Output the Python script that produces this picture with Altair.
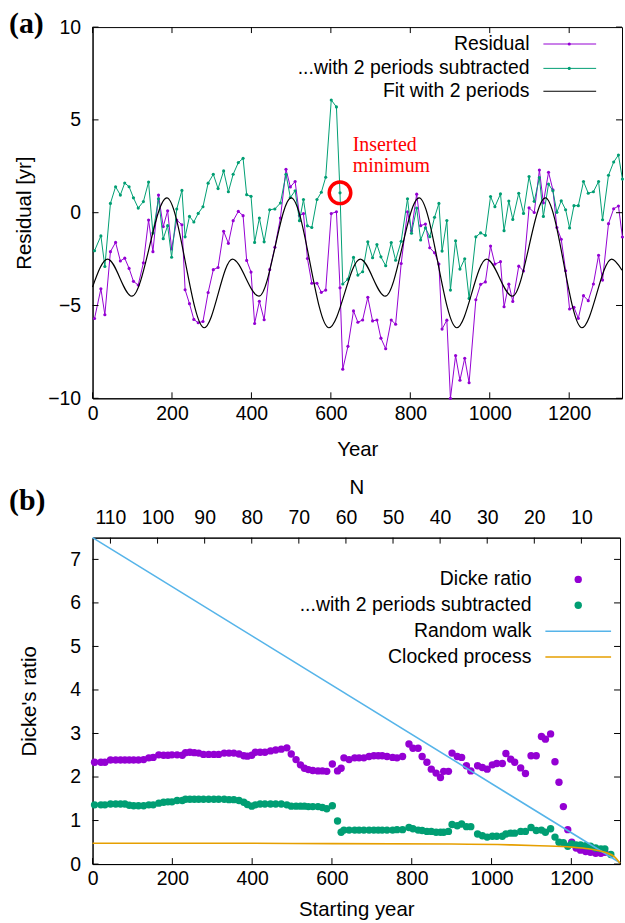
import altair as alt
import pandas as pd

# ---------------- data: panel (a) ----------------
years = [5, 21, 31, 45, 58, 70, 81, 92, 103, 115,
         128, 141, 152, 166, 178, 189, 199, 212, 225, 233,
         244, 255, 266, 278, 291, 304, 316, 330, 342, 354,
         367, 379, 388, 399, 408, 420, 432, 446, 459, 473,
         487, 498, 510, 521, 531, 541, 552, 565, 576, 587,
         601, 614, 623, 630, 643, 657, 668, 680, 693, 705,
         716, 726, 738, 752, 763, 777, 793, 803, 816, 826,
         838, 849, 861, 872, 880, 892, 901, 914, 925, 937,
         948, 965, 977, 989, 1002, 1013, 1027, 1036, 1048, 1058,
         1073, 1085, 1099, 1112, 1125, 1135, 1148, 1159, 1169, 1180,
         1191, 1201, 1212, 1223, 1236, 1248, 1261, 1274, 1284, 1299,
         1312, 1324, 1334]

residual = [-5.7, -4.1, -5.5, -2.1, -1.6, -2.6, -2.45, -3.0, -3.7, -3.9,
            -2.7, -0.4, -2.1, 0.95, -0.75, 0.1, -1.95, -0.4, -0.65, -4.15,
            -4.9, -5.75, -5.93, -5.86, -4.3, -3.07, -2.95, -1.0, -1.65, -0.43,
            0.07, -0.16, -2.57, -3.2, -5.97, -4.77, -5.77, -3.07, -1.86, -0.29,
            2.34, 1.39, 1.68, -0.15, -0.05, -2.47, -3.8, -3.8, -4.29, -4.17,
            -0.05, 0.05, -4.05, -8.43, -7.2, -5.29, -5.9, -5.78, -4.56, -5.83,
            -5.78, -6.76, -7.33, -5.78, -6.01, -2.74, 0.05, -0.97, 1.0, -0.7,
            -0.61, -1.89, -2.16, -2.77, -6.27, -5.79, -10.0, -7.7, -9.03, -7.84,
            -9.16, -4.69, -3.86, -3.73, -1.8, -2.77, -2.64, -5.07, -3.85, -4.78,
            -2.88, -3.14, 0.26, 0.01, 2.3, 0.53, 2.18, 1.23, -0.8, -1.43,
            -3.13, -5.19, -5.1, -5.69, -4.47, -4.74, -3.84, -2.29, -3.63, -0.59,
            0.21, 0.36, -1.31]

subtracted = [-2.05, -1.25, -2.9, 0.5, 1.4, 0.95, 1.6, 1.4, 0.8, 0.25,
              0.6, 1.65, -1.1, 0.75, -1.4, -0.7, -2.4, 0.2, 1.2, -1.3,
              -0.2, -0.5, -0.04, 0.32, 1.59, 2.07, 1.3, 2.25, 1.13, 2.07,
              2.7, 2.93, 0.97, 0.88, -1.6, -0.29, -1.57, 0.16, 0.2, 0.52,
              2.07, 0.82, 1.18, -0.43, 0.71, -0.71, -0.8, 0.71, 1.1, 1.91,
              6.07, 5.7, 1.07, -3.84, -3.58, -2.41, -3.36, -3.18, -1.57, -2.43,
              -1.72, -2.38, -2.86, -1.61, -2.56, -1.54, 0.75, -1.11, 0.25, -1.47,
              -0.82, -1.29, -0.25, 0.5, -2.07, -0.42, -4.17, -1.51, -3.04, -2.48,
              -4.62, -1.3, -1.09, -1.22, 0.87, 0.32, 1.01, -0.97, 0.63, -0.36,
              1.05, -0.04, 1.95, 0.61, 1.89, -0.2, 1.54, 1.18, 0.02, 0.64,
              0.16, -0.82, 0.38, 0.38, 1.68, 1.05, 1.13, 1.68, -0.38, 2.02,
              2.73, 3.11, 1.81]

# extrema of the two-period fit curve
fit_years = [0, 38, 99, 187, 281, 352, 419, 500, 595, 674,
             737, 822, 917, 992, 1057, 1140, 1232, 1307, 1333]
fit_vals = [-4.0, -2.5, -4.5, 0.8, -6.2, -2.5, -4.5, 0.8, -6.2, -2.5,
            -4.5, 0.8, -6.2, -2.5, -4.5, 0.8, -6.2, -2.5, -3.1]

inserted_index = 52
annot_lines = ["Inserted", "minimum"]
annot_year = [655, 655]
annot_vals = [3.32, 2.20]

x_ticks_a = [0, 200, 400, 600, 800, 1000, 1200]
y_ticks_a = [-10, -5, 0, 5, 10]
legend_a = ["Residual", "...with 2 periods subtracted", "Fit with 2 periods"]

# ---------------- data: panel (b) ----------------
dicke = [2.34, 2.34, 2.34, 2.39, 2.39, 2.39, 2.39, 2.39, 2.39, 2.39,
         2.40, 2.44, 2.45, 2.51, 2.50, 2.50, 2.51, 2.51, 2.50, 2.56,
         2.57, 2.56, 2.55, 2.52, 2.52, 2.52, 2.52, 2.55, 2.55, 2.55,
         2.53, 2.49, 2.48, 2.50, 2.57, 2.57, 2.57, 2.60, 2.62, 2.64,
         2.67, 2.53, 2.40, 2.28, 2.20, 2.17, 2.15, 2.14, 2.14, 2.13,
         2.30, 2.14, 2.20, 2.44, 2.40, 2.44, 2.44, 2.44, 2.47, 2.49,
         2.49, 2.49, 2.47, 2.45, 2.44, 2.47, 2.76, 2.66, 2.66, 2.47,
         2.34, 2.18, 2.09, 1.99, 2.13, 2.13, 2.55, 2.47, 2.45, 2.26,
         2.14, 2.26, 2.22, 2.18, 2.28, 2.31, 2.31, 2.54, 2.41, 2.34,
         2.21, 2.08, 2.49, 2.49, 2.93, 2.87, 2.99, 2.35, 1.88, 1.32,
         0.79, 0.50, 0.37, 0.32, 0.29, 0.27, 0.25, 0.25, 0.27]

dicke_sub = [1.36, 1.36, 1.36, 1.38, 1.38, 1.38, 1.38, 1.35, 1.34, 1.34,
             1.34, 1.36, 1.36, 1.40, 1.42, 1.43, 1.43, 1.46, 1.46, 1.49,
             1.49, 1.49, 1.49, 1.49, 1.49, 1.49, 1.49, 1.49, 1.48, 1.48,
             1.46, 1.42, 1.37, 1.33, 1.36, 1.38, 1.38, 1.38, 1.38, 1.38,
             1.36, 1.33, 1.33, 1.33, 1.33, 1.32, 1.32, 1.32, 1.30, 1.27,
             1.34, 0.99, 0.73, 0.78, 0.78, 0.78, 0.78, 0.78, 0.78, 0.78,
             0.78, 0.78, 0.78, 0.78, 0.79, 0.79, 0.84, 0.81, 0.78, 0.77,
             0.75, 0.75, 0.73, 0.73, 0.73, 0.75, 0.91, 0.88, 0.92, 0.86,
             0.86, 0.69, 0.65, 0.62, 0.64, 0.64, 0.64, 0.69, 0.71, 0.71,
             0.75, 0.75, 0.84, 0.77, 0.78, 0.73, 0.81, 0.62, 0.50, 0.49,
             0.41, 0.46, 0.44, 0.44, 0.42, 0.41, 0.37, 0.35, 0.35, 0.22]

rw_years = [0, 1322]
rw_vals = [7.5, 0.03]

cl_years = [0, 300, 600, 900, 1050, 1120, 1200, 1243, 1284, 1309, 1322]
cl_vals = [0.48, 0.48, 0.47, 0.46, 0.44, 0.42, 0.39, 0.35, 0.27, 0.16, 0.02]

x_ticks_b = [0, 200, 400, 600, 800, 1000, 1200]
y_ticks_b = [0, 1, 2, 3, 4, 5, 6, 7]
n_ticks = [10, 20, 30, 40, 50, 60, 70, 80, 90, 100, 110]
legend_b = ["Dicke ratio", "...with 2 periods subtracted", "Random walk", "Clocked process"]

# ---------------- styling ----------------
FONT = "Liberation Sans"
SERIF = "Liberation Serif"
PURPLE = "#9400d3"
GREEN = "#009e73"
BLUE = "#56b4e9"
ORANGE = "#e69f00"
RED = "#ff0000"
TICK_FS = 19.5
TITLE_FS = 20.5
LEG_FS = 19.5

W1, H1 = 532, 373
W2, H2 = 530, 328
TK = 6  # inner tick length


def one_row(label):
    return pd.DataFrame({"t": [label]})


def text_at(label, x, y, align="right", font=FONT, size=LEG_FS, weight="normal", color="black"):
    return alt.Chart(one_row(label)).mark_text(
        align=align, baseline="middle", font=font, fontSize=size,
        fontWeight=weight, color=color
    ).encode(x=alt.value(x), y=alt.value(y), text="t:N")


def sample_line(x1, x2, y, color, width=1.0):
    return alt.Chart(one_row("s")).mark_rule(color=color, strokeWidth=width).encode(
        x=alt.value(x1), x2=alt.value(x2), y=alt.value(y))


def sample_dot(x, y, color, size):
    return alt.Chart(one_row("s")).mark_circle(color=color, size=size, opacity=1).encode(
        x=alt.value(x), y=alt.value(y))


def inner_ticks(xvals, yvals, xs, ys, xax, yax, W, H, top=True):
    xdf = pd.DataFrame({"v": xvals})
    ydf = pd.DataFrame({"v": yvals})
    layers = [
        alt.Chart(xdf).mark_rule(color="black").encode(
            x=alt.X("v:Q", scale=xs, axis=xax), y=alt.value(H), y2=alt.value(H - TK)),
        alt.Chart(ydf).mark_rule(color="black").encode(
            y=alt.Y("v:Q", scale=ys, axis=yax), x=alt.value(0), x2=alt.value(TK)),
        alt.Chart(ydf).mark_rule(color="black").encode(
            y=alt.Y("v:Q", scale=ys, axis=yax), x=alt.value(W - TK), x2=alt.value(W)),
    ]
    if top:
        layers.append(alt.Chart(xdf).mark_rule(color="black").encode(
            x=alt.X("v:Q", scale=xs, axis=xax), y=alt.value(0), y2=alt.value(TK)))
    return layers


# ---------------- panel (a) ----------------
top_df = pd.DataFrame({"year": years, "resid": residual, "sub": subtracted})
fit_df = pd.DataFrame({"year": fit_years, "fit": fit_vals})
annot_df = pd.DataFrame({"t": annot_lines, "year": annot_year, "val": annot_vals})
circle_df = top_df.iloc[[inserted_index]]

xs_a = alt.Scale(domain=[0, 1333], nice=False, zero=False)
ys_a = alt.Scale(domain=[-10, 10], nice=False, zero=False)

xa_axis = alt.Axis(title="Year", values=x_ticks_a, format="d", labelPadding=6,
                   titlePadding=17, labelFlush=False)
ya_axis = alt.Axis(title="Residual [yr]", values=y_ticks_a, format="d", labelPadding=12,
                   titlePadding=13)

XA = lambda f: alt.X(f, scale=xs_a, axis=xa_axis)
YA = lambda f: alt.Y(f, scale=ys_a, axis=ya_axis)

base_a = alt.Chart(top_df)
resid_line = base_a.mark_line(color=PURPLE, strokeWidth=1).encode(
    x=XA("year:Q"), y=YA("resid:Q"))
resid_pts = base_a.mark_circle(color=PURPLE, size=10, opacity=1).encode(
    x=XA("year:Q"), y=YA("resid:Q"))
sub_line = base_a.mark_line(color=GREEN, strokeWidth=1).encode(
    x=XA("year:Q"), y=YA("sub:Q"))
sub_pts = base_a.mark_circle(color=GREEN, size=10, opacity=1).encode(
    x=XA("year:Q"), y=YA("sub:Q"))
fit_line = alt.Chart(fit_df).mark_line(color="black", strokeWidth=1.2,
                                       interpolate="monotone").encode(
    x=XA("year:Q"), y=YA("fit:Q"))
circle = alt.Chart(circle_df).mark_point(shape="circle", filled=False, color=RED,
                                         strokeWidth=3.5, size=470, opacity=1).encode(
    x=XA("year:Q"), y=YA("sub:Q"))
annot = alt.Chart(annot_df).mark_text(align="left", baseline="alphabetic", font=SERIF,
                                      fontSize=20, color=RED).encode(
    x=XA("year:Q"), y=YA("val:Q"), text="t:N")

leg_y_a = [17, 41.5, 64.5]
legend_layers_a = [
    text_at(legend_a[0], 439, leg_y_a[0]),
    sample_line(453, 506, leg_y_a[0], PURPLE),
    sample_dot(479, leg_y_a[0], PURPLE, 10),
    text_at(legend_a[1], 439, leg_y_a[1]),
    sample_line(453, 506, leg_y_a[1], GREEN),
    sample_dot(479, leg_y_a[1], GREEN, 10),
    text_at(legend_a[2], 439, leg_y_a[2]),
    sample_line(453, 506, leg_y_a[2], "black", 1.2),
]

label_a = text_at("(a)", -84, -3, align="left", font=SERIF, size=30, weight="bold")

panel_a = alt.layer(
    resid_line, resid_pts, sub_line, sub_pts, fit_line,
    *inner_ticks(x_ticks_a, y_ticks_a, xs_a, ys_a, xa_axis, ya_axis, W1, H1, top=True),
    *legend_layers_a, annot, circle, label_a
).properties(width=W1, height=H1)

# ---------------- panel (b) ----------------
d_df = pd.DataFrame({"year": years[:len(dicke)], "d": dicke})
ds_df = pd.DataFrame({"year": years[:len(dicke_sub)], "d": dicke_sub})
rw_df = pd.DataFrame({"year": rw_years, "d": rw_vals})
cl_df = pd.DataFrame({"year": cl_years, "d": cl_vals})

xs_b = alt.Scale(domain=[0, 1322], nice=False, zero=False)
ys_b = alt.Scale(domain=[0, 7.5], nice=False, zero=False)

xb_axis = alt.Axis(title="Starting year", values=x_ticks_b, format="d", labelPadding=6,
                   titlePadding=11, labelFlush=False)
yb_axis = alt.Axis(title="Dicke's ratio", values=y_ticks_b, format="d", labelPadding=12,
                   titlePadding=30)

XB = lambda f: alt.X(f, scale=xs_b, axis=xb_axis)
YB = lambda f: alt.Y(f, scale=ys_b, axis=yb_axis)

d_pts = alt.Chart(d_df).mark_circle(color=PURPLE, size=55, opacity=1).encode(
    x=XB("year:Q"), y=YB("d:Q"))
ds_pts = alt.Chart(ds_df).mark_circle(color=GREEN, size=55, opacity=1).encode(
    x=XB("year:Q"), y=YB("d:Q"))
rw_line = alt.Chart(rw_df).mark_line(color=BLUE, strokeWidth=1.6).encode(
    x=XB("year:Q"), y=YB("d:Q"))
cl_line = alt.Chart(cl_df).mark_line(color=ORANGE, strokeWidth=1.6,
                                     interpolate="monotone").encode(
    x=XB("year:Q"), y=YB("d:Q"))

leg_y_b = [42, 68, 94, 120]
legend_layers_b = [
    text_at(legend_b[0], 441, leg_y_b[0]),
    sample_dot(488, leg_y_b[0], PURPLE, 55),
    text_at(legend_b[1], 441, leg_y_b[1]),
    sample_dot(488, leg_y_b[1], GREEN, 55),
    text_at(legend_b[2], 441, leg_y_b[2]),
    sample_line(455, 521, leg_y_b[2], BLUE, 1.6),
    text_at(legend_b[3], 441, leg_y_b[3]),
    sample_line(455, 521, leg_y_b[3], ORANGE, 1.6),
]

label_b = text_at("(b)", -84, -37, align="left", font=SERIF, size=30, weight="bold")

main_b = alt.layer(
    d_pts, ds_pts, rw_line, cl_line,
    *inner_ticks(x_ticks_b, y_ticks_b, xs_b, ys_b, xb_axis, yb_axis, W2, H2, top=False),
    *legend_layers_b, label_b
)

n_layer = alt.Chart(pd.DataFrame({"n": n_ticks})).mark_rule(color="black").encode(
    x=alt.X("n:Q", scale=alt.Scale(domain=[113.8, 1.8], nice=False, zero=False),
            axis=alt.Axis(orient="top", title="N", values=n_ticks, format="d",
                          labelPadding=10, titlePadding=10, labelFlush=False)),
    y=alt.value(0), y2=alt.value(TK))

panel_b = alt.layer(main_b, n_layer).resolve_scale(x="independent").properties(
    width=W2, height=H2)

chart = alt.vconcat(panel_a, panel_b, spacing=16).properties(
    padding={"left": 8, "top": 6, "right": 0, "bottom": 0}
).configure_axis(
    labelFont=FONT, labelFontSize=TICK_FS, labelColor="black",
    titleFont=FONT, titleFontSize=TITLE_FS, titleFontWeight="normal", titleColor="black",
    domainColor="black", domainWidth=1, ticks=False, grid=False
).configure_view(stroke="black", strokeWidth=1)

chart.save("out.html", embed_options={"renderer": "svg", "actions": False})
